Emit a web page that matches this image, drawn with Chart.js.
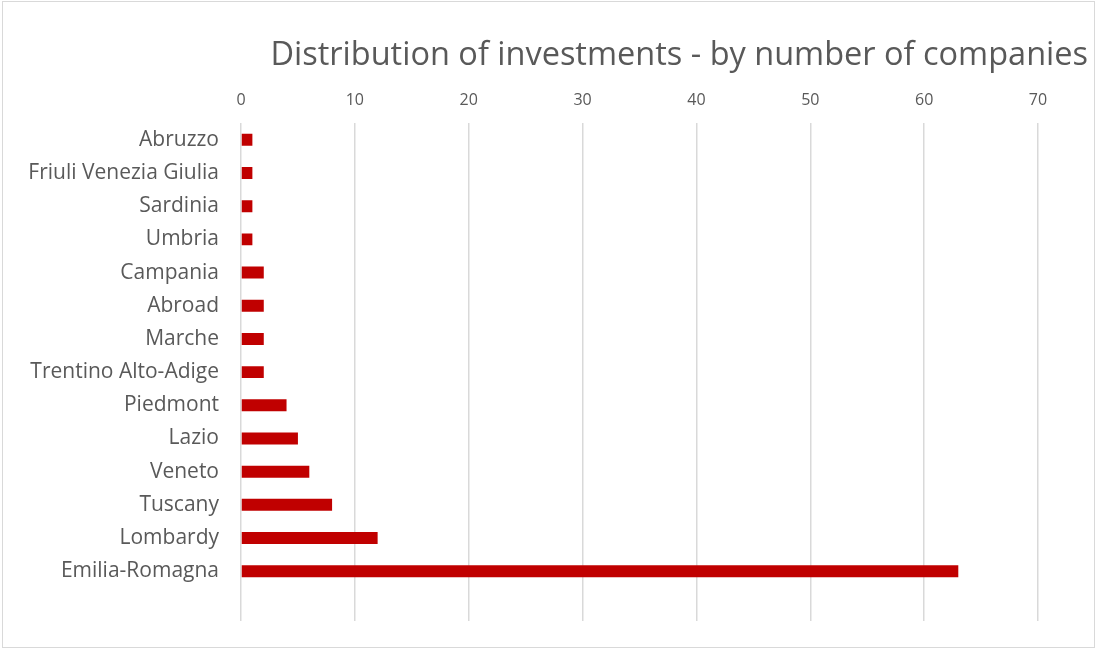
<!DOCTYPE html>
<html>
<head>
<meta charset="utf-8">
<script src="https://cdn.jsdelivr.net/npm/chart.js@4/dist/chart.umd.min.js"></script>
<style>
  html, body { margin: 0; padding: 0; background: #ffffff; }
  #wrap { width: 1096px; height: 650px; position: relative; }
</style>
</head>
<body>
<div id="wrap"><canvas id="c" width="1096" height="650"></canvas></div>
<script>
const categories = [
  "Abruzzo", "Friuli Venezia Giulia", "Sardinia", "Umbria", "Campania",
  "Abroad", "Marche", "Trentino Alto-Adige", "Piedmont", "Lazio",
  "Veneto", "Tuscany", "Lombardy", "Emilia-Romagna", ""
];
const companies = [1, 1, 1, 1, 2, 2, 2, 2, 4, 5, 6, 8, 12, 63, null];
const xTicks = [0, 10, 20, 30, 40, 50, 60, 70];
const titleText = "Distribution of investments - by number of companies";

const FONT = "'Open Sans', 'DejaVu Sans', sans-serif";

const borderPlugin = {
  id: 'outerBorder',
  afterDraw(chart) {
    const ctx = chart.ctx;
    ctx.save();
    ctx.strokeStyle = '#d9d9d9';
    ctx.lineWidth = 1;
    ctx.strokeRect(2.5, 1.5, 1092, 646);
    ctx.restore();
  }
};

new Chart(document.getElementById('c'), {
  type: 'bar',
  data: {
    labels: categories,
    datasets: [{
      label: 'Companies',
      data: companies,
      backgroundColor: '#c00000',
      borderWidth: 0,
      barPercentage: 0.36,
      categoryPercentage: 1.0
    }]
  },
  options: {
    indexAxis: 'y',
    responsive: false,
    animation: false,
    layout: { padding: { left: 0, right: 8, top: 0, bottom: 29 } },
    plugins: {
      legend: { display: false },
      tooltip: { enabled: false },
      title: {
        display: true,
        text: titleText,
        align: 'end',
        color: '#595959',
        font: { family: FONT, size: 32.5, weight: 'normal' },
        padding: { top: 36, bottom: 3 }
      }
    },
    scales: {
      x: {
        position: 'top',
        min: xTicks[0],
        max: xTicks[xTicks.length - 1],
        afterBuildTicks(scale) { scale.ticks = xTicks.map(v => ({ value: v })); },
        ticks: {
          color: '#595959',
          font: { family: FONT, size: 16 },
          padding: 13
        },
        grid: { color: '#d9d9d9', lineWidth: 1.5, drawTicks: false },
        border: { display: false }
      },
      y: {
        position: 'left',
        afterFit(scale) {
          scale.width = 241;
          scale.paddingTop = 0;
          scale.paddingBottom = 0;
        },
        ticks: {
          color: '#595959',
          font: { family: FONT, size: 21 },
          padding: 22,
          autoSkip: false
        },
        grid: { display: false, drawTicks: false },
        border: { display: false }
      },
      yRight: {
        type: 'linear',
        position: 'right',
        afterFit(scale) {
          scale.width = 50;
          scale.paddingTop = 0;
          scale.paddingBottom = 0;
        },
        ticks: { display: false },
        grid: { display: false, drawTicks: false },
        border: { display: false }
      }
    }
  },
  plugins: [borderPlugin]
});
</script>
</body>
</html>
